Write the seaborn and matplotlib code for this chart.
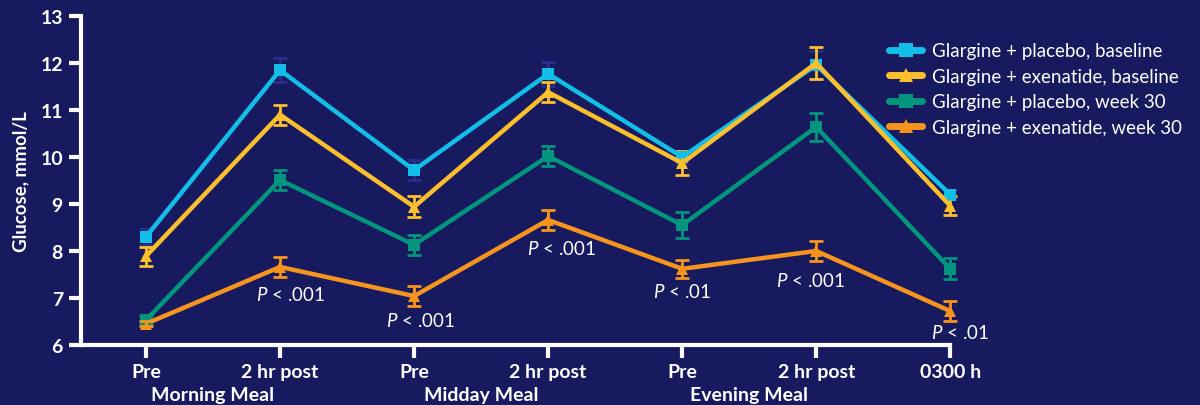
import numpy as np
import pandas as pd
import matplotlib
matplotlib.use("Agg")
import matplotlib.pyplot as plt
import seaborn as sns

# =====================================================
# DATOS
# =====================================================

puntos = ["Pre", "2 hr post", "Pre", "2 hr post", "Pre", "2 hr post", "0300 h"]
comidas = ["Morning Meal", "Midday Meal", "Evening Meal"]

series = [
    "Glargine + placebo, baseline",
    "Glargine + exenatide, baseline",
    "Glargine + placebo, week 30",
    "Glargine + exenatide, week 30",
]

placebo_base = [8.30, 11.85, 9.72, 11.77, 10.00, 11.96, 9.20]
exenatide_base = [7.89, 10.90, 8.94, 11.38, 9.87, 12.00, 8.96]
placebo_w30 = [6.53, 9.51, 8.13, 10.02, 8.55, 10.64, 7.62]
exenatide_w30 = [6.45, 7.66, 7.04, 8.66, 7.62, 8.00, 6.72]

err_placebo_base = [0.17, 0.25, 0.22, 0.25, 0.13, 0.30, 0.10]
err_exenatide_base = [0.20, 0.21, 0.22, 0.22, 0.25, 0.35, 0.20]
err_placebo_w30 = [0.08, 0.22, 0.22, 0.22, 0.28, 0.30, 0.22]
err_exenatide_w30 = [0.05, 0.22, 0.22, 0.22, 0.19, 0.22, 0.22]

p_textos = ["P < .001", "P < .001", "P < .001", "P < .01", "P < .001", "P < .01"]
p_x = [1.08, 2.05, 3.10, 4.00, 4.96, 6.07]
p_y = [7.08, 6.52, 8.06, 7.15, 7.38, 6.27]

valores = [placebo_base, exenatide_base, placebo_w30, exenatide_w30]
errores = [err_placebo_base, err_exenatide_base, err_placebo_w30, err_exenatide_w30]

# =====================================================
# ESTILO
# =====================================================

fondo = "#171a5e"
colores = ["#12bde8", "#fdbf2c", "#00957c", "#f7941e"]
colores_err = ["#2a2e8c", "#fdbf2c", "#00957c", "#f7941e"]
marcadores = ["s", "^", "s", "^"]

sns.set_style("white")
plt.rcParams["font.family"] = ["Lato", "DejaVu Sans"]
plt.rcParams["mathtext.fontset"] = "custom"
plt.rcParams["mathtext.it"] = "Lato:italic"
plt.rcParams["mathtext.rm"] = "Lato"

df = pd.DataFrame({
    "x": np.tile(np.arange(len(puntos)), len(series)),
    "Glucose": np.concatenate(valores),
    "Serie": np.repeat(series, len(puntos)),
})

fig = plt.figure(figsize=(12, 4.06), dpi=100, facecolor=fondo)
ax = fig.add_axes([0.0675, 0.148, 0.7925, 0.81])
ax.set_facecolor(fondo)

sns.lineplot(
    data=df,
    x="x",
    y="Glucose",
    hue="Serie",
    style="Serie",
    markers=dict(zip(series, marcadores)),
    dashes=False,
    palette=dict(zip(series, colores)),
    linewidth=3.2,
    markersize=9,
    markeredgewidth=0,
    ax=ax,
    legend=False,
    clip_on=False,
    zorder=3,
)

for i in range(len(series)):
    ax.errorbar(
        np.arange(len(puntos)),
        valores[i],
        yerr=errores[i],
        fmt="none",
        ecolor=colores_err[i],
        elinewidth=2,
        capsize=5,
        capthick=2,
        zorder=2 + i * 0.5,
        clip_on=False,
    )

# =====================================================
# EJES
# =====================================================

ax.set_xlim(-0.485, 6.61)
ax.set_ylim(6, 13)
ax.set_yticks(range(6, 14))
ax.set_xticks(range(len(puntos)))
ax.set_xticklabels(puntos)

for lado in ["top", "right"]:
    ax.spines[lado].set_visible(False)
for lado in ["left", "bottom"]:
    ax.spines[lado].set_color("white")
    ax.spines[lado].set_linewidth(3)
ax.spines["bottom"].set_bounds(-0.485, 6)

ax.tick_params(axis="both", bottom=True, left=True, colors="white", width=3,
               length=9, direction="out", labelsize=14, pad=4)
for lab in ax.get_xticklabels() + ax.get_yticklabels():
    lab.set_fontweight("bold")
    lab.set_color("white")

ax.set_xlabel("")
ax.set_ylabel("Glucose, mmol/L", color="white", fontsize=13.5, fontweight="bold",
              labelpad=8)

for j, comida in enumerate(comidas):
    ax.text(2 * j + 0.5, -0.152, comida, transform=ax.get_xaxis_transform(),
            ha="center", va="center", color="white", fontsize=14,
            fontweight="bold")

for texto, xx, yy in zip(p_textos, p_x, p_y):
    ax.text(xx, yy, texto.replace("P", r"$\mathit{P}$", 1), ha="center",
            va="center", color="white", fontsize=13.5)

# =====================================================
# LEYENDA
# =====================================================

handles = [
    plt.Line2D([], [], color=c, marker=m, linewidth=5, markersize=10,
               markeredgewidth=0)
    for c, m in zip(colores, marcadores)
]
leg = fig.legend(
    handles,
    series,
    loc="upper left",
    bbox_to_anchor=(0.727, 0.935),
    frameon=False,
    fontsize=13.5,
    handlelength=1.75,
    handletextpad=0.55,
    labelspacing=0.45,
)
for t in leg.get_texts():
    t.set_color("white")

fig.savefig("out.png", dpi=100, facecolor=fondo)
